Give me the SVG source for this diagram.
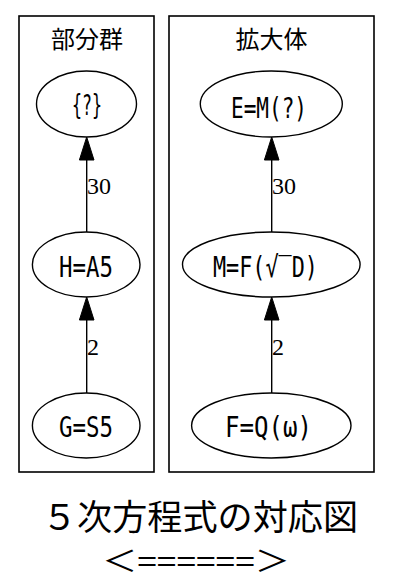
<svg xmlns="http://www.w3.org/2000/svg" width="409" height="585" viewBox="0 0 409 585">
<style>
.cl{fill:none;stroke:#000;stroke-width:1.6}
.nd{fill:#fff;stroke:#000;stroke-width:1.4}
.lb{font-family:"DejaVu Sans Mono","Liberation Mono",monospace;font-size:29px;fill:#000;text-anchor:middle}
.tt{font-family:"Noto Sans CJK JP",sans-serif;font-size:24px;fill:#000;text-anchor:middle}
.el{font-family:"Liberation Serif",serif;font-size:24px;fill:#000}
.ed{stroke:#000;stroke-width:1.4;fill:none}
.bt{font-family:"Noto Sans CJK JP",sans-serif;font-size:35px;fill:#000;text-anchor:middle}
.ar{font-family:"Noto Sans CJK JP",sans-serif;font-size:29px;fill:#000;text-anchor:middle}
</style>
<rect width="409" height="585" fill="#fff"/>
<g id="cluster_sub">
<rect class="cl" x="19" y="16" width="135" height="456"/>
<text class="tt" x="87" y="48">部分群</text>
</g>
<g id="cluster_ext">
<rect class="cl" x="169" y="16" width="205" height="456"/>
<text class="tt" x="271.5" y="48">拡大体</text>
</g>
<g id="connectors">
<line class="ed" x1="86.7" y1="232" x2="86.7" y2="158"/>
<polygon points="86.7,137 79.4,160 94,160" fill="#000" stroke="#000" stroke-width="1"/>
<text class="el" x="87" y="194">30</text>
<line class="ed" x1="86.7" y1="393" x2="86.7" y2="318"/>
<polygon points="86.7,297 79.4,320 94,320" fill="#000" stroke="#000" stroke-width="1"/>
<text class="el" x="87" y="355">2</text>
<line class="ed" x1="271.7" y1="232" x2="271.7" y2="158"/>
<polygon points="271.7,137 264.4,160 279,160" fill="#000" stroke="#000" stroke-width="1"/>
<text class="el" x="272" y="194">30</text>
<line class="ed" x1="271.7" y1="393" x2="271.7" y2="318"/>
<polygon points="271.7,297 264.4,320 279,320" fill="#000" stroke="#000" stroke-width="1"/>
<text class="el" x="272" y="355">2</text>
</g>
<g id="node_unknown">
<ellipse class="nd" cx="86.5" cy="104" rx="50" ry="33"/>
<text class="lb" x="87" y="115" textLength="30" lengthAdjust="spacingAndGlyphs">{?}</text>
</g>
<g id="node_H">
<ellipse class="nd" cx="86.2" cy="264.5" rx="53.8" ry="32.5"/>
<text class="lb" x="86" y="277" textLength="54" lengthAdjust="spacingAndGlyphs">H=A5</text>
</g>
<g id="node_G">
<ellipse class="nd" cx="86.2" cy="425.5" rx="53.8" ry="32.5"/>
<text class="lb" x="86" y="437" textLength="54" lengthAdjust="spacingAndGlyphs">G=S5</text>
</g>
<g id="node_E">
<ellipse class="nd" cx="271.3" cy="104" rx="71" ry="33"/>
<text class="lb" x="269" y="118" textLength="76" lengthAdjust="spacingAndGlyphs">E=M(?)</text>
</g>
<g id="node_M">
<ellipse class="nd" cx="271.3" cy="264.5" rx="88.8" ry="32.5"/>
<text class="lb" x="265.5" y="277" textLength="105" lengthAdjust="spacingAndGlyphs">M=F(√‾D)</text>
</g>
<g id="node_F">
<ellipse class="nd" cx="271.3" cy="425.5" rx="79.7" ry="32.5"/>
<text class="lb" x="268.5" y="437" textLength="87" lengthAdjust="spacingAndGlyphs">F=Q(ω)</text>
</g>
<g id="caption">
<text class="bt" x="200" y="530" textLength="316" lengthAdjust="spacingAndGlyphs">５次方程式の対応図</text>
<text class="ar" x="196" y="572" textLength="188" lengthAdjust="spacingAndGlyphs">＜======＞</text>
</g>
</svg>
